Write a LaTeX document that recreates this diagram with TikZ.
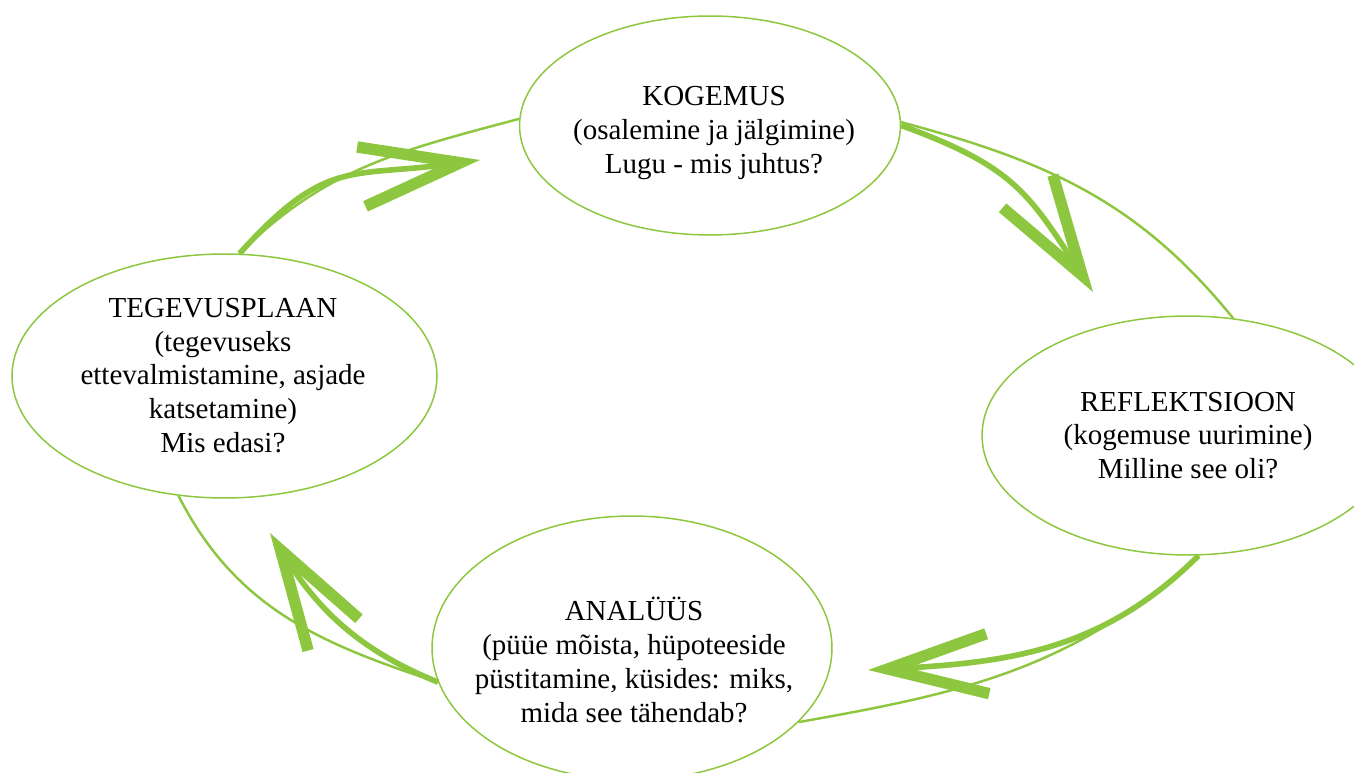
\documentclass[tikz,border=0pt]{standalone}
\usepackage{fontspec}
\setmainfont{Liberation Serif}
\usetikzlibrary{arrows.meta, shapes.geometric}
\definecolor{leaf}{HTML}{8DC63F}

\begin{document}
\begin{tikzpicture}[x=0.02cm, y=0.02cm,
  stage/.style={draw=leaf, line width=0.85pt, ellipse, inner sep=0pt},
  txt/.style={align=center, font=\fontsize{16.5}{19.2}\selectfont},
  link/.style={draw=leaf, line width=1.4pt},
  flow/.style={draw=leaf, line width=3.2pt,
    -{Straight Barb[length=2cm, width=1.2cm, line width'=6.5pt, sharp]}}]
\useasboundingbox (0,0) rectangle (1354,773);
% the four stages
\node[stage, minimum width=7.62cm, minimum height=4.38cm] (kog) at (710,647.5) {};
\node[stage, minimum width=8.24cm, minimum height=4.78cm] (ref) at (1188,337.5) {};
\node[stage, minimum width=8cm, minimum height=5.28cm] (ana) at (632,125) {};
\node[stage, minimum width=8.5cm, minimum height=4.88cm] (teg) at (224.5,397) {};
\node[txt] (kogtxt) at (714,640) {KOGEMUS\\(osalemine ja jälgimine)\\Lugu - mis juhtus?};
\node[txt] (reftxt) at (1188,337.5) {REFLEKTSIOON\\(kogemuse uurimine)\\Milline see oli?};
\node[txt] (anatxt) at (634,113) {ANALÜÜS\\(püüe mõista, hüpoteeside\\püstitamine, küsides: miks,\\mida see tähendab?};
\node[txt] (tegtxt) at (223,397.5) {TEGEVUSPLAAN\\(tegevuseks\\ettevalmistamine, asjade\\katsetamine)\\Mis edasi?};
% thin arcs between the stages
\draw[link] (teg.83) to[out=45, in=195] (kog.178);
\draw[link] (kog.1) to[out=-15, in=129] (ref.69);
\draw[link] (ref.-85) to[out=222, in=10] (ana.-24);
\draw[link] (ana.190) to[out=162, in=-63] (teg.249);
% big arrows
\coordinate (tip1) at (480,613);
\coordinate (tip2) at (1093,481);
\coordinate (tip3) at (868,103);
\coordinate (tip4) at (270,240);
\draw[flow] (teg.83) to[out=48, in=188, looseness=1.3] (tip1);
\draw[flow] (kog.0) to[out=-20, in=123, looseness=1.2] (tip2);
\draw[flow] (ref.-85) to[out=225, in=3] (tip3);
\draw[flow] (ana.190) to[out=158, in=-58] (tip4);
\end{tikzpicture}
\end{document}
